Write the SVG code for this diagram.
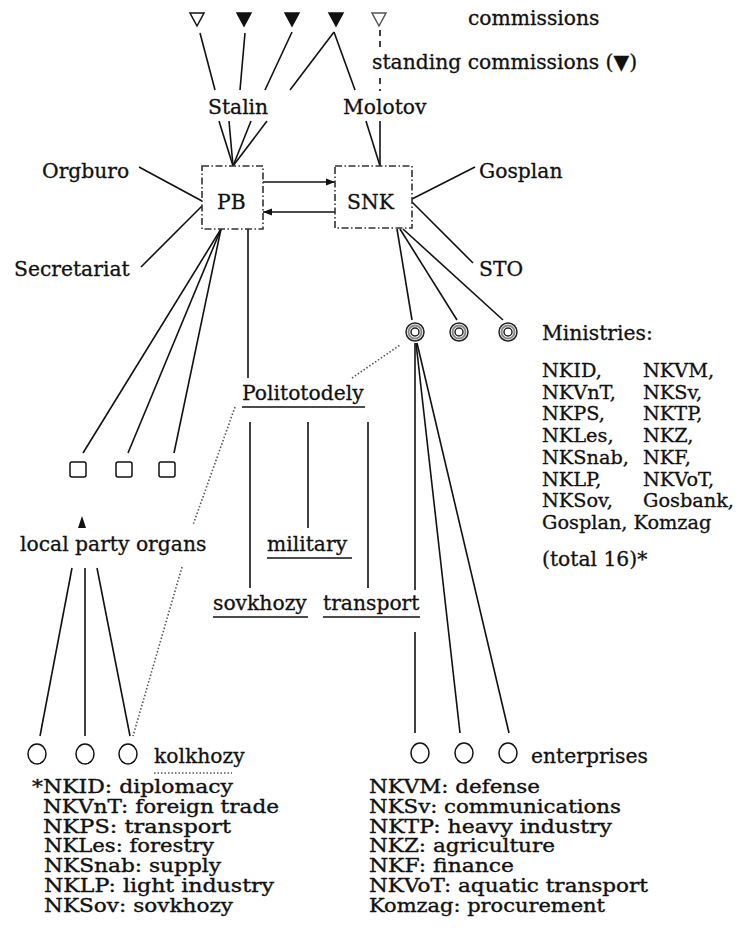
<svg xmlns="http://www.w3.org/2000/svg" width="747" height="932" viewBox="0 0 747 932">
<style>
text{font-family:"DejaVu Serif","Liberation Serif",serif;font-size:20.3px;fill:#111;stroke:#111;stroke-width:0.3}
.fn{font-size:17.8px;stroke-width:0.35}
.ml{font-size:19.3px}
.ln{stroke:#111;stroke-width:1.6;fill:none}
.dot{stroke:#555;stroke-width:1.6;fill:none;stroke-dasharray:1.5,2}
.dash{stroke:#111;stroke-width:1.6;fill:none;stroke-dasharray:6,5}
.box{fill:#fff;stroke:#333;stroke-width:1.6;stroke-dasharray:7,2.5,1.5,2.5}
.open{fill:#fff;stroke:#111;stroke-width:1.5}
.fill{fill:#111;stroke:#111;stroke-width:1.5}
.ring{fill:#fff;stroke:#222;stroke-width:1.5}
.ul{stroke:#111;stroke-width:1.5}
</style>
<defs>
<marker id="ah" viewBox="0 0 10 10" refX="10" refY="5" markerWidth="9" markerHeight="9" orient="auto" markerUnits="userSpaceOnUse"><path d="M0,1 L10,5 L0,9 Z" fill="#111"/></marker>
</defs>
<g id="connectors">
<line class="ln" x1="200" y1="33" x2="215" y2="90"/>
<line class="ln" x1="245" y1="33" x2="240" y2="90"/>
<line class="ln" x1="292" y1="32" x2="265" y2="90"/>
<line class="ln" x1="334" y1="32" x2="290" y2="90"/>
<line class="ln" x1="334" y1="32" x2="355" y2="90"/>
<line class="dash" x1="380" y1="30" x2="380" y2="48"/>
<line class="dash" x1="380" y1="78" x2="380" y2="91"/>
<line class="ln" x1="219" y1="121" x2="233" y2="166"/>
<line class="ln" x1="229" y1="121" x2="233" y2="166"/>
<line class="ln" x1="251" y1="121" x2="233" y2="166"/>
<line class="ln" x1="267" y1="121" x2="233" y2="166"/>
<line class="ln" x1="366" y1="121" x2="380" y2="166"/>
<line class="ln" x1="380" y1="121" x2="380" y2="166"/>
<line class="ln" x1="139" y1="167" x2="202" y2="201"/>
<line class="ln" x1="141" y1="267" x2="202" y2="206"/>
<line class="ln" x1="412" y1="199" x2="475" y2="167"/>
<line class="ln" x1="412" y1="202" x2="473" y2="263"/>
<line class="ln" x1="263" y1="182" x2="335" y2="182" marker-end="url(#ah)"/>
<line class="ln" x1="335" y1="212" x2="263" y2="212" marker-end="url(#ah)"/>
<line class="ln" x1="221" y1="229" x2="83" y2="453"/>
<line class="ln" x1="221" y1="229" x2="128" y2="453"/>
<line class="ln" x1="221" y1="229" x2="174" y2="453"/>
<line class="ln" x1="248" y1="229" x2="248" y2="378"/>
<line class="ln" x1="397" y1="229" x2="412" y2="320"/>
<line class="ln" x1="400" y1="229" x2="457" y2="320"/>
<line class="ln" x1="403" y1="229" x2="503" y2="320"/>
<line class="dot" x1="352" y1="378" x2="400" y2="345"/>
<line class="ln" x1="250" y1="422" x2="250" y2="588"/>
<line class="ln" x1="308" y1="422" x2="308" y2="528"/>
<line class="ln" x1="368" y1="422" x2="368" y2="588"/>
<line class="ln" x1="415" y1="343" x2="415" y2="590"/>
<line class="ln" x1="415" y1="632" x2="415" y2="733"/>
<line class="ln" x1="416" y1="343" x2="460" y2="733"/>
<line class="ln" x1="417" y1="343" x2="509" y2="733"/>
<line class="dot" x1="235" y1="407" x2="193" y2="525"/>
<line class="dot" x1="182" y1="567" x2="133" y2="736"/>
<line class="ln" x1="72" y1="568" x2="40" y2="736"/>
<line class="ln" x1="85" y1="568" x2="85" y2="736"/>
<line class="ln" x1="97" y1="568" x2="130" y2="736"/>
</g>
<g id="tri1"><polygon class="open" points="190,13 204,13 197,26"/></g>
<g id="tri2"><polygon class="fill" points="237,13 251,13 244,26"/></g>
<g id="tri3"><polygon class="fill" points="285,13 299,13 292,26"/></g>
<g id="tri4"><polygon class="fill" points="329,13 343,13 336,26"/></g>
<g id="tri5"><polygon class="open" points="372,13 386,13 379,26" style="stroke:#555"/></g>
<g id="commissions"><text x="468" y="25">commissions</text></g>
<g id="standing"><text x="372" y="69">standing commissions (▼)</text></g>
<g id="stalin"><text x="208" y="114">Stalin</text></g>
<g id="molotov"><text x="343" y="114">Molotov</text></g>
<g id="orgburo"><text x="42" y="178">Orgburo</text></g>
<g id="secretariat"><text x="14" y="276">Secretariat</text></g>
<g id="gosplan"><text x="479" y="178">Gosplan</text></g>
<g id="sto"><text x="479" y="276">STO</text></g>
<g id="pb"><rect class="box" x="202" y="166" width="61" height="63"/><text x="217" y="209">PB</text></g>
<g id="snk"><rect class="box" x="335" y="166" width="77" height="62"/><text x="347" y="209">SNK</text></g>
<g id="min1"><circle class="ring" cx="415" cy="332" r="9"/><circle cx="415" cy="332" r="6.5" fill="none" stroke="#888" stroke-width="2"/><circle class="ring" cx="415" cy="332" r="4"/></g>
<g id="min2"><circle class="ring" cx="459" cy="332" r="9"/><circle cx="459" cy="332" r="6.5" fill="none" stroke="#888" stroke-width="2"/><circle class="ring" cx="459" cy="332" r="4"/></g>
<g id="min3"><circle class="ring" cx="508" cy="332" r="9"/><circle cx="508" cy="332" r="6.5" fill="none" stroke="#888" stroke-width="2"/><circle class="ring" cx="508" cy="332" r="4"/></g>
<g id="ministries">
<text x="542" y="340">Ministries:</text>
<text class="ml" x="542" y="377">NKID,</text><text class="ml" x="643" y="377">NKVM,</text>
<text class="ml" x="542" y="399">NKVnT,</text><text class="ml" x="643" y="399">NKSv,</text>
<text class="ml" x="542" y="420">NKPS,</text><text class="ml" x="643" y="420">NKTP,</text>
<text class="ml" x="542" y="442">NKLes,</text><text class="ml" x="643" y="442">NKZ,</text>
<text class="ml" x="542" y="464">NKSnab,</text><text class="ml" x="643" y="464">NKF,</text>
<text class="ml" x="542" y="486">NKLP,</text><text class="ml" x="643" y="486">NKVoT,</text>
<text class="ml" x="542" y="507">NKSov,</text><text class="ml" x="643" y="507">Gosbank,</text>
<text class="ml" x="542" y="529">Gosplan, Komzag</text>
<text x="542" y="566">(total 16)*</text>
</g>
<g id="politotodely"><text x="242" y="400">Politotodely</text><line class="ul" x1="242" y1="407" x2="365" y2="407"/></g>
<g id="sq1"><rect class="open" x="70" y="462" width="16" height="15" rx="2"/></g>
<g id="sq2"><rect class="open" x="116" y="462" width="16" height="15" rx="2"/></g>
<g id="sq3"><rect class="open" x="159" y="462" width="16" height="15" rx="2"/></g>
<g id="local-party"><polygon points="82,516 78,528 86,528" fill="#111"/><text x="20" y="551">local party organs</text></g>
<g id="military"><text x="267" y="551">military</text><line class="ul" x1="267" y1="558" x2="352" y2="558"/></g>
<g id="sovkhozy"><text x="213" y="610">sovkhozy</text><line class="ul" x1="213" y1="617" x2="308" y2="617"/></g>
<g id="transport"><text x="323" y="610">transport</text><line class="ul" x1="323" y1="617" x2="420" y2="617"/></g>
<g id="kol1"><ellipse class="open" cx="37" cy="754" rx="9" ry="10"/></g>
<g id="kol2"><ellipse class="open" cx="85" cy="754" rx="9" ry="10"/></g>
<g id="kol3"><ellipse class="open" cx="128" cy="754" rx="9" ry="10"/></g>
<g id="kolkhozy"><text x="154" y="763">kolkhozy</text><line class="dot" x1="154" y1="773" x2="232" y2="773"/></g>
<g id="ent1"><ellipse class="open" cx="420" cy="753" rx="9" ry="10"/></g>
<g id="ent2"><ellipse class="open" cx="464" cy="753" rx="9" ry="10"/></g>
<g id="ent3"><ellipse class="open" cx="508" cy="753" rx="9" ry="10"/></g>
<g id="enterprises"><text x="531" y="763">enterprises</text></g>
<g id="footnotes">
<text class="fn" x="32" y="793" textLength="201" lengthAdjust="spacingAndGlyphs">*NKID: diplomacy</text>
<text class="fn" x="43" y="812.8" textLength="236" lengthAdjust="spacingAndGlyphs">NKVnT: foreign trade</text>
<text class="fn" x="43" y="832.6" textLength="188" lengthAdjust="spacingAndGlyphs">NKPS:  transport</text>
<text class="fn" x="44" y="852.4" textLength="170" lengthAdjust="spacingAndGlyphs">NKLes: forestry</text>
<text class="fn" x="44" y="872.2" textLength="177" lengthAdjust="spacingAndGlyphs">NKSnab: supply</text>
<text class="fn" x="44" y="892" textLength="230" lengthAdjust="spacingAndGlyphs">NKLP:  light industry</text>
<text class="fn" x="44" y="911.8" textLength="189" lengthAdjust="spacingAndGlyphs">NKSov: sovkhozy</text>
<text class="fn" x="369" y="793" textLength="171" lengthAdjust="spacingAndGlyphs">NKVM: defense</text>
<text class="fn" x="369" y="812.8" textLength="252" lengthAdjust="spacingAndGlyphs">NKSv: communications</text>
<text class="fn" x="369" y="832.6" textLength="243" lengthAdjust="spacingAndGlyphs">NKTP: heavy industry</text>
<text class="fn" x="369" y="852.4" textLength="186" lengthAdjust="spacingAndGlyphs">NKZ: agriculture</text>
<text class="fn" x="369" y="872.2" textLength="145" lengthAdjust="spacingAndGlyphs">NKF: finance</text>
<text class="fn" x="369" y="892" textLength="279" lengthAdjust="spacingAndGlyphs">NKVoT: aquatic transport</text>
<text class="fn" x="369" y="911.8" textLength="236" lengthAdjust="spacingAndGlyphs">Komzag: procurement</text>
</g>
</svg>
